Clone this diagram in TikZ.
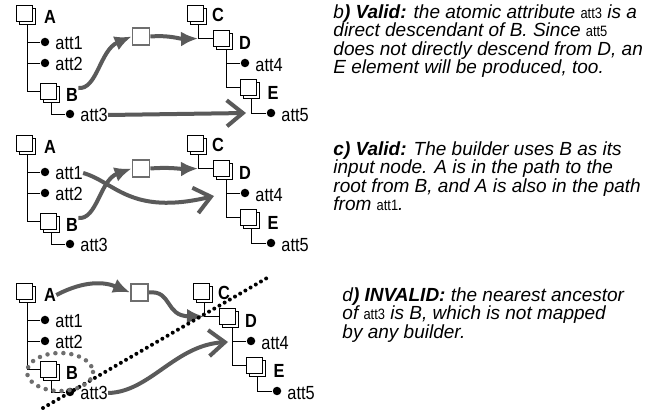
\documentclass[tikz,border=0pt]{standalone}
\usepackage{fontspec}
\setmainfont{Liberation Sans}
\newfontfamily\treefont{Liberation Sans}[FakeStretch=0.86]
\usepackage{tikz}
\usetikzlibrary{arrows.meta,positioning,calc,shadows}
\definecolor{flowGray}{RGB}{90,90,90}
\definecolor{boxGray}{RGB}{110,110,110}
\newcommand\attname[1]{{\treefont\fontsize{15}{15}\selectfont\upshape #1}}

\tikzset{
  doc/.style={draw, fill=white, minimum size=16pt, inner sep=0pt, line width=0.9pt,
    copy shadow={shadow xshift=3pt, shadow yshift=-3pt}},
  elem/.style={font=\treefont\fontsize{19}{19}\selectfont\bfseries, inner sep=0pt},
  attr/.style={font=\treefont\fontsize{19}{19}\selectfont, inner sep=0pt, anchor=west},
  dotn/.style={circle, fill, inner sep=0pt, minimum size=8.5pt},
  builder/.style={draw=boxGray, line width=1.8pt, fill=white, minimum size=17pt, inner sep=0pt},
  flow/.style={draw=flowGray, line width=4pt, -{Latex[length=17pt,width=15pt]}},
  flowopen/.style={draw=flowGray, line width=4pt, -{Straight Barb[length=16pt,width=26pt]}},
  note/.style={font=\fontsize{19}{18.5}\selectfont\itshape, align=left, anchor=north west, inner sep=0pt},
}

\begin{document}
\begin{tikzpicture}[x=1pt, y=-1pt, line width=0.9pt]
  \useasboundingbox (0,0) rectangle (665,414);

  % the same document tree in each of the three cases
  \foreach \p/\dy/\dx in {1/0/0,2/130/0,3/278/6}{
    \begin{scope}[shift={(0,\dy)}]
      \node[doc] (A-\p) at (24,13) {};
      \node[elem] (lA-\p) at (50,17) {A};
      \node[dotn] (d1-\p) at (45,42) {};
      \node[attr] (t1-\p) at (55,43) {att1};
      \node[dotn] (d2-\p) at (45,63) {};
      \node[attr] (t2-\p) at (55,64) {att2};
      \node[doc] (B-\p) at (48,91) {};
      \node[elem] (lB-\p) at (72,95) {B};
      \node[dotn] (d3-\p) at (70,114) {};
      \node[attr] (t3-\p) at (80,115) {att3};
      \draw ([shift={(3,3)}]A-\p.south) |- (d1-\p)
            ([shift={(3,3)}]A-\p.south) |- (d2-\p)
            ([shift={(3,3)}]A-\p.south) |- (B-\p);
      \draw ([shift={(3,3)}]B-\p.south) |- (d3-\p);
      \begin{scope}[shift={(\dx,0)}]
        \node[doc] (C-\p) at (195,13) {};
        \node[elem] (lC-\p) at (218,15) {C};
        \node[doc] (D-\p) at (221.5,38.5) {};
        \node[elem] (lD-\p) at (245,43) {D};
        \node[dotn] (d4-\p) at (245,63) {};
        \node[attr] (t4-\p) at (255,65) {att4};
        \node[doc] (E-\p) at (248.5,87) {};
        \node[elem] (lE-\p) at (273,93) {E};
        \node[dotn] (d5-\p) at (271,113) {};
        \node[attr] (t5-\p) at (281,115) {att5};
        \draw ([shift={(3,3)}]C-\p.south) |- coordinate[pos=0.5] (j-\p) (D-\p);
        \draw ([shift={(5,3)}]D-\p.south) |- (d4-\p)
              ([shift={(5,3)}]D-\p.south) |- (E-\p);
        \draw ([shift={(3,3)}]E-\p.south) |- (d5-\p);
      \end{scope}
    \end{scope}
  }

  % builders
  \node[builder] (G-1) at (141,36.5) {};
  \node[builder] (G-2) at (141,168.5) {};
  \node[builder] (G-3) at (139.5,292.5) {};

  \coordinate (x-1) at (246,113);
  \coordinate (x-2) at (214,196);
  \coordinate (x-3) at (228,342);

  % b)
  \draw[flow] (lB-1.north east) .. controls (97,90) and (100,50) .. (G-1.west);
  \draw[flow] (G-1.east) .. controls (170,35) and (180,39) .. (j-1);
  \draw[flowopen] (t3-1.east) -- (x-1);

  % c)
  \draw[flow] (lB-2.north east) .. controls (97,220) and (100,180) .. (G-2.west);
  \draw[flow] (G-2.east) .. controls (170,167) and (180,169) .. (j-2);
  \draw[flowopen] (t1-2.east) .. controls (115,182) and (130,216) .. (x-2);

  % d)
  \draw[flow] (lA-3.east) .. controls (85,280) and (105,282) .. (G-3.west);
  \draw[flow] (G-3.east) .. controls (172,290) and (165,316) .. (j-3);
  \draw[flowopen] (t3-3.east) .. controls (150,392) and (175,345) .. (x-3);
  \draw[line width=4pt, line cap=round, dash pattern=on 0pt off 6pt] (43,408) -- (267,278);
  \draw[boxGray, line width=4.5pt, line cap=round, dash pattern=on 0pt off 8pt]
    (60,372) ellipse [x radius=33, y radius=19];

  % captions
  \node[note] (nb) at (333,4) {b\textbf{) Valid:} the atomic attribute \attname{att3} is a\\
    direct descendant of B. Since \attname{att5}\\
    does not directly descend from D, an\\
    E element will be produced, too.};
  \node[note] (nc) at (333,141) {\textbf{c) Valid:} The builder uses B as its\\
    input node. A is in the path to the\\
    root from B, and A is also in the path\\
    from \attname{att1}.};
  \node[note] (nd) at (342,287) {d\textbf{) INVALID:} the nearest ancestor\\
    of \attname{att3} is B, which is not mapped\\
    by any builder.};
\end{tikzpicture}
\end{document}
